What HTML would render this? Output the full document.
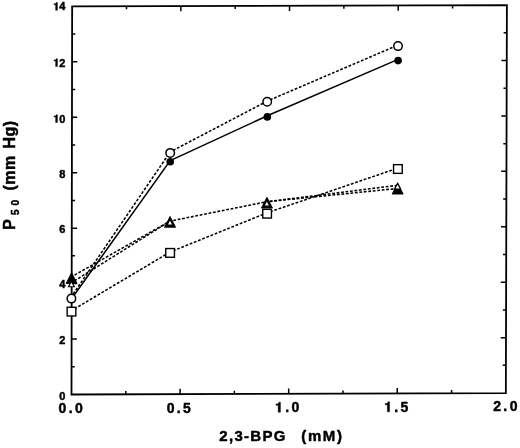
<!DOCTYPE html>
<html><head><meta charset="utf-8"><title>P50 vs 2,3-BPG</title>
<style>
html,body{margin:0;padding:0;background:#fff;}
body{width:520px;height:448px;overflow:hidden;}
svg{display:block;will-change:transform;}
body{font-family:"Liberation Sans",sans-serif;}
.tx{fill:#000;stroke:#000;stroke-width:0.45;stroke-linejoin:round;}
text{font-family:"Liberation Sans",sans-serif;font-weight:bold;fill:#000;stroke:#000;stroke-width:0.45;stroke-linejoin:round;font-kerning:none;white-space:pre;}
.yl{font-size:11px;}
.xl{font-size:14px;letter-spacing:2.4px;}
.xt{font-size:15px;letter-spacing:1.3px;}
.xt .mm{letter-spacing:1.6px;}
.yt{font-size:16px;letter-spacing:0.47px;}
.yt .sb{font-size:10px;letter-spacing:0;}
.h{fill-opacity:0;stroke-opacity:0;}
</style></head><body>
<svg width="520" height="448" viewBox="0 0 520 448">
<rect width="520" height="448" fill="#fff"/>
<path d="M72.15 6.3 L506.9 5.1 L505.85 393.05 L71.5 394.5 Z" fill="none" stroke="#000" stroke-width="1.8" stroke-linejoin="miter"/>
<path d="M125.79 394.32V391.12M126.49 6.15V9.35M180.09 394.14V388.84M180.84 6V11.3M234.38 393.96V390.76M235.18 5.85V9.05M288.68 393.77V388.47M289.52 5.7V11M342.97 393.59V390.39M343.87 5.55V8.75M397.26 393.41V388.11M398.21 5.4V10.7M451.56 393.23V390.03M452.56 5.25V8.45M71.55 366.77H74.75M505.93 365.34H502.73M71.59 339.04H76.89M506 337.63H500.7M71.64 311.31H74.84M506.07 309.92H502.88M71.69 283.59H76.99M506.15 282.21H500.85M71.73 255.86H74.93M506.22 254.5H503.02M71.78 228.13H77.08M506.3 226.79H501M71.83 200.4H75.03M506.38 199.08H503.18M71.87 172.67H77.17M506.45 171.36H501.15M71.92 144.94H75.12M506.52 143.65H503.32M71.96 117.21H77.26M506.6 115.94H501.3M72.01 89.49H75.21M506.68 88.23H503.48M72.06 61.76H77.36M506.75 60.52H501.45M72.1 34.03H75.3M506.82 32.81H503.62" stroke="#000" stroke-width="1.5" fill="none"/>
<g stroke="#000" stroke-width="1.55" stroke-dasharray="2.8 1.7" fill="none"><line x1="71.5" y1="310.7" x2="170.1" y2="252" stroke-dashoffset="1.13"/><line x1="170.1" y1="252" x2="267.1" y2="212.8" stroke-dashoffset="1.4"/><line x1="267.1" y1="212.8" x2="397.9" y2="168.1" stroke-dashoffset="1.4"/><line x1="71.4" y1="296.6" x2="170.2" y2="151.9" stroke-dashoffset="1.4"/><line x1="170.2" y1="151.9" x2="267.2" y2="101.1" stroke-dashoffset="1.38"/><line x1="267.2" y1="101.1" x2="398" y2="45.1" stroke-dashoffset="1.54"/><line x1="71.6" y1="276.75" x2="170.05" y2="221.1" stroke-dashoffset="1.1"/><line x1="170.05" y1="221.1" x2="266.95" y2="201.7" stroke-dashoffset="1.26"/><line x1="266.95" y1="201.7" x2="397.65" y2="188.45" stroke-dashoffset="1.65"/><line x1="71.4" y1="282.8" x2="170.05" y2="221.1" stroke-dashoffset="0.95"/><line x1="266.95" y1="201.7" x2="397.6" y2="185.3" stroke-dashoffset="1.83"/></g>
<polyline points="71.4,299 170.2,160.6 267.3,115.8 398.1,59.4" fill="none" stroke="#000" stroke-width="1.55" stroke-linejoin="round"/>
<rect x="67.15" y="307.25" width="8.7" height="8.7" fill="#fff" stroke="#000" stroke-width="1.4"/>
<rect x="165.75" y="248.55" width="8.7" height="8.7" fill="#fff" stroke="#000" stroke-width="1.4"/>
<rect x="262.75" y="209.35" width="8.7" height="8.7" fill="#fff" stroke="#000" stroke-width="1.4"/>
<rect x="393.55" y="164.65" width="8.7" height="8.7" fill="#fff" stroke="#000" stroke-width="1.4"/>
<polygon points="71.6,272.64 77.1,283.45 66.1,283.45" fill="#000" stroke="#000" stroke-width="0.9" stroke-linejoin="round"/>
<polygon points="170.05,216.44 175.55,227.25 164.55,227.25" fill="#000" stroke="#000" stroke-width="0.9" stroke-linejoin="round"/>
<polygon points="266.95,197.25 272.45,208.05 261.45,208.05" fill="#000" stroke="#000" stroke-width="0.9" stroke-linejoin="round"/>
<polygon points="397.65,183.25 403.15,194.05 392.15,194.05" fill="#000" stroke="#000" stroke-width="0.9" stroke-linejoin="round"/>
<polygon points="71.4,279.85 75.25,287.15 67.55,287.15" fill="#000"/>
<polygon points="71.4,282.55 73.4,286.35 69.4,286.35" fill="#fff"/>
<polygon points="170,218 173.85,225.3 166.15,225.3" fill="#000"/>
<polygon points="170,220.7 172,224.5 168,224.5" fill="#fff"/>
<polygon points="266.8,199 270.65,206.3 262.95,206.3" fill="#000"/>
<polygon points="266.8,201.7 268.8,205.5 264.8,205.5" fill="#fff"/>
<polygon points="397.6,182 401.45,189.3 393.75,189.3" fill="#000"/>
<polygon points="397.6,184.7 399.6,188.5 395.6,188.5" fill="#fff"/>
<circle cx="71.4" cy="298.5" r="3.8" fill="#000"/>
<circle cx="170.2" cy="161.7" r="3.8" fill="#000"/>
<circle cx="267.3" cy="116.9" r="3.8" fill="#000"/>
<circle cx="398.1" cy="60.6" r="3.8" fill="#000"/>
<circle cx="71.4" cy="298.6" r="4.25" fill="#fff" stroke="#000" stroke-width="1.5"/>
<circle cx="170.2" cy="152.9" r="4.25" fill="#fff" stroke="#000" stroke-width="1.5"/>
<circle cx="267.2" cy="101.8" r="4.25" fill="#fff" stroke="#000" stroke-width="1.5"/>
<circle cx="398" cy="46.1" r="4.25" fill="#fff" stroke="#000" stroke-width="1.5"/>
<text x="53.16" y="10.3" class="yl"><tspan class="h">1</tspan>4</text>
<text x="53.16" y="66.6" class="yl"><tspan class="h">1</tspan>2</text>
<text x="53.16" y="122.6" class="yl"><tspan class="h">1</tspan>0</text>
<text x="59.28" y="178.4" class="yl">8</text>
<text x="59.28" y="232.8" class="yl">6</text>
<text x="59.28" y="288.3" class="yl">4</text>
<text x="59.28" y="344.3" class="yl">2</text>
<text x="59.28" y="399.5" class="yl">0</text>
<text x="58.55" y="413.1" class="xl">0.0</text>
<text x="166.65" y="412.7" class="xl">0.5</text>
<text x="275" y="412.2" class="xl"><tspan class="h">1</tspan>.0</text>
<text x="384.15" y="411.8" class="xl"><tspan class="h">1</tspan>.5</text>
<text x="493.2" y="411.4" class="xl">2.0</text>
<path d="M57.41 10.3 L57.41 2.47 L56.16 2.47 L56.05 2.95 L55.61 3.57 L54.81 3.79 L53.96 3.85 L53.96 4.8 L55.67 4.8 L55.67 10.3ZM57.41 66.6 L57.41 58.77 L56.16 58.77 L56.05 59.25 L55.61 59.87 L54.81 60.09 L53.96 60.15 L53.96 61.1 L55.67 61.1 L55.67 66.6ZM57.41 122.6 L57.41 114.77 L56.16 114.77 L56.05 115.25 L55.61 115.87 L54.81 116.09 L53.96 116.15 L53.96 117.1 L55.67 117.1 L55.67 122.6ZM280.4 412.2 L280.4 402.23 L278.81 402.23 L278.67 402.85 L278.11 403.63 L277.1 403.91 L276.01 404 L276.01 405.2 L278.19 405.2 L278.19 412.2ZM389.55 411.8 L389.55 401.83 L387.96 401.83 L387.82 402.45 L387.26 403.23 L386.25 403.51 L385.16 403.6 L385.16 404.8 L387.34 404.8 L387.34 411.8Z" class="tx"/>
<text y="440.8" class="xt"><tspan x="219.3">2,3-BPG</tspan><tspan x="295.53" class="mm"> (mM)</tspan></text>
<text transform="rotate(-90)" class="yt"><tspan x="-229.77" y="15">P</tspan><tspan x="-214.9" y="19" class="sb">5</tspan><tspan x="-205.5" y="19" class="sb">0</tspan><tspan x="-195.42" y="15"> (mm</tspan><tspan x="-153.49" y="15"> H</tspan><tspan x="-136.46" y="15">g)</tspan></text>
</svg>
</body></html>
